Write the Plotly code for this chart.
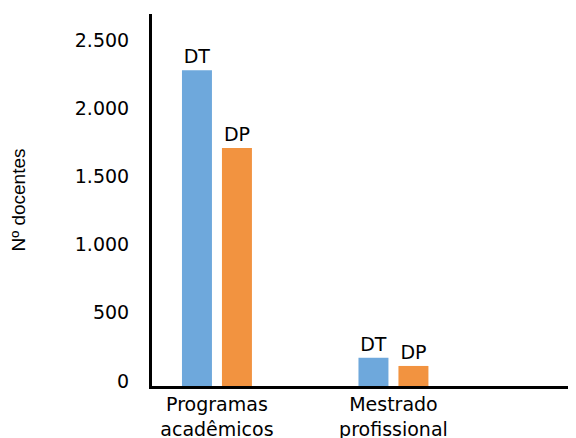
import plotly.graph_objects as go

categories = ["Programas<br>acadêmicos", "Mestrado<br>profissional"]
dt_values = [2315, 207]
dp_values = [1745, 147]
series_names = ["DT", "DP"]
y_ticks = [0, 500, 1000, 1500, 2000, 2500]

blue = "#6EA8DC"
orange = "#F29340"
font_main = "DejaVu Sans, Open Sans, sans-serif"

fig = go.Figure()
fig.add_trace(go.Bar(
    x=categories, y=dt_values, name=series_names[0],
    marker=dict(color=blue, line=dict(width=0)),
    text=[series_names[0]] * len(categories), textposition="outside",
    textfont=dict(family=font_main, size=19, color="black"),
    cliponaxis=False,
))
fig.add_trace(go.Bar(
    x=categories, y=dp_values, name=series_names[1],
    marker=dict(color=orange, line=dict(width=0)),
    text=[series_names[1]] * len(categories), textposition="outside",
    textfont=dict(family=font_main, size=19, color="black"),
    cliponaxis=False,
))

fig.update_layout(
    width=560, height=430,
    margin=dict(l=144, r=0, t=6, b=52),
    paper_bgcolor="white", plot_bgcolor="white",
    barmode="group", bargap=0.547, bargroupgap=0.25,
    showlegend=False,
    separators=",.",
    font=dict(family=font_main, size=18, color="black"),
)
fig.update_xaxes(
    type="category", automargin=False,
    range=[-0.368, 1.989],
    showline=True, linecolor="black", linewidth=3,
    showgrid=False, ticks="",
    ticklabelstandoff=-1,
    tickfont=dict(family=font_main, size=19, color="black"),
)
fig.update_yaxes(
    automargin=False,
    range=[0, 2727],
    tickvals=y_ticks, tickformat=",d",
    showline=True, linecolor="black", linewidth=3,
    showgrid=False, zeroline=False, ticks="",
    ticklabelstandoff=16, ticklabelshift=-5,
    tickfont=dict(family=font_main, size=19, color="black"),
    title=dict(text="Nº docentes", standoff=55,
               font=dict(family="Liberation Sans Narrow, Liberation Sans, sans-serif", size=19, color="black")),
)

fig.write_html("out.html")
